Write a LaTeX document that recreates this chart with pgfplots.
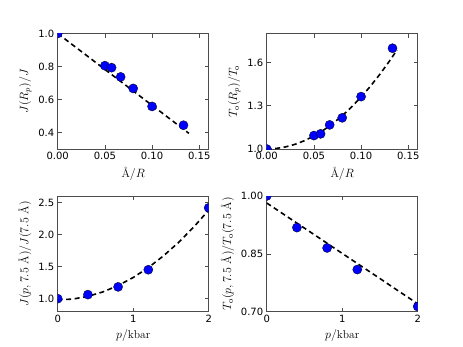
\documentclass[border=0pt]{standalone}
\usepackage{fontspec}
\usepackage{amsmath}
\usepackage{pgfplots}
\pgfplotsset{compat=1.18}
\newfontfamily\vera{DejaVu Sans}
\definecolor{ptblue}{HTML}{0000FF}
\pgfplotsset{
  panel/.style={
    scale only axis, width=151pt, height=115.5pt, anchor=south west,
    clip marker paths=true,
    axis line style={black!70, line width=0.6pt},
    tick style={black!70, line width=0.5pt}, major tick length=4pt,
    tick align=inside,
    tick label style={font=\vera\fontsize{10}{12}\selectfont},
    /pgf/number format/assume math mode=true,
    label style={font=\fontsize{11.5}{13}\selectfont},
    every axis plot/.append style={line join=round},
  },
  fit/.style={black, line width=1.6pt, dash pattern=on 5pt off 3.5pt, no marks},
  pts/.style={only marks, mark=*, mark size=4.6pt,
    mark options={fill=ptblue, draw=black, line width=0.3pt}},
}

\begin{document}
\begin{tikzpicture}
\useasboundingbox (0,0) rectangle (463pt,346pt);

% top left
\begin{axis}[panel, at={(57.7pt,197pt)},
  xmin=0, xmax=0.16, ymin=0.3, ymax=1.0,
  xtick={0,0.05,0.1,0.15}, ytick={0.4,0.6,0.8,1.0},
  xticklabel style={/pgf/number format/.cd,fixed,fixed zerofill,precision=2},
  yticklabel style={/pgf/number format/.cd,fixed,fixed zerofill,precision=1},
  xlabel={\AA$/R$}, ylabel={$J(R_p)/J$}]
\addplot[fit] coordinates {(0,1.0) (0.139,0.395)};
\addplot[pts] coordinates {
  (0,1.0) (0.05,0.805) (0.0571,0.793) (0.0667,0.737)
  (0.08,0.667) (0.1,0.558) (0.1333,0.444)};
\end{axis}

% top right
\begin{axis}[panel, at={(266.7pt,197pt)},
  xmin=0, xmax=0.16, ymin=1.0, ymax=1.8,
  xtick={0,0.05,0.1,0.15}, ytick={1.0,1.3,1.6},
  xticklabel style={/pgf/number format/.cd,fixed,fixed zerofill,precision=2},
  yticklabel style={/pgf/number format/.cd,fixed,fixed zerofill,precision=1},
  xlabel={\AA$/R$}, ylabel={$T_\mathrm{o}(R_p)/T_\mathrm{o}$}]
\addplot[fit] coordinates {
  (0,1.0) (0.01,1.0036) (0.02,1.0144) (0.03,1.0324) (0.04,1.0576)
  (0.05,1.09) (0.06,1.1296) (0.07,1.1764) (0.08,1.2304) (0.09,1.2916)
  (0.10,1.36) (0.11,1.4356) (0.12,1.5184) (0.13,1.6084) (0.138,1.6856)};
\addplot[pts] coordinates {
  (0,1.0) (0.05,1.093) (0.0571,1.105) (0.0667,1.167)
  (0.08,1.216) (0.1,1.363) (0.1333,1.698)};
\end{axis}

% bottom left
\begin{axis}[panel, at={(57.7pt,34.5pt)},
  xmin=0, xmax=2, ymin=0.8, ymax=2.6,
  xtick={0,1,2}, ytick={1.0,1.5,2.0,2.5},
  yticklabel style={/pgf/number format/.cd,fixed,fixed zerofill,precision=1},
  xlabel={$p/\mathrm{kbar}$},
  ylabel={$J(p,7.5\ \text{\AA})/J(7.5\ \text{\AA})$}]
\addplot[fit] coordinates {
  (0,0.98) (0.2,0.994) (0.4,1.036) (0.6,1.106) (0.8,1.204) (1.0,1.33)
  (1.2,1.484) (1.4,1.666) (1.6,1.876) (1.8,2.114) (2.0,2.38)};
\addplot[pts] coordinates {
  (0,1.0) (0.4,1.063) (0.8,1.184) (1.2,1.451) (2.0,2.416)};
\end{axis}

% bottom right
\begin{axis}[panel, at={(266.7pt,34.5pt)},
  xmin=0, xmax=2, ymin=0.70, ymax=1.00,
  xtick={0,1,2}, ytick={0.70,0.85,1.00},
  yticklabel style={/pgf/number format/.cd,fixed,fixed zerofill,precision=2},
  xlabel={$p/\mathrm{kbar}$},
  ylabel={$T_\mathrm{o}(p,7.5\ \text{\AA})/T_\mathrm{o}(7.5\ \text{\AA})$}]
\addplot[fit] coordinates {(0,0.982) (2.0,0.72)};
\addplot[pts] coordinates {
  (0,1.0) (0.4,0.918) (0.8,0.865) (1.2,0.809) (2.0,0.713)};
\end{axis}
\end{tikzpicture}
\end{document}
